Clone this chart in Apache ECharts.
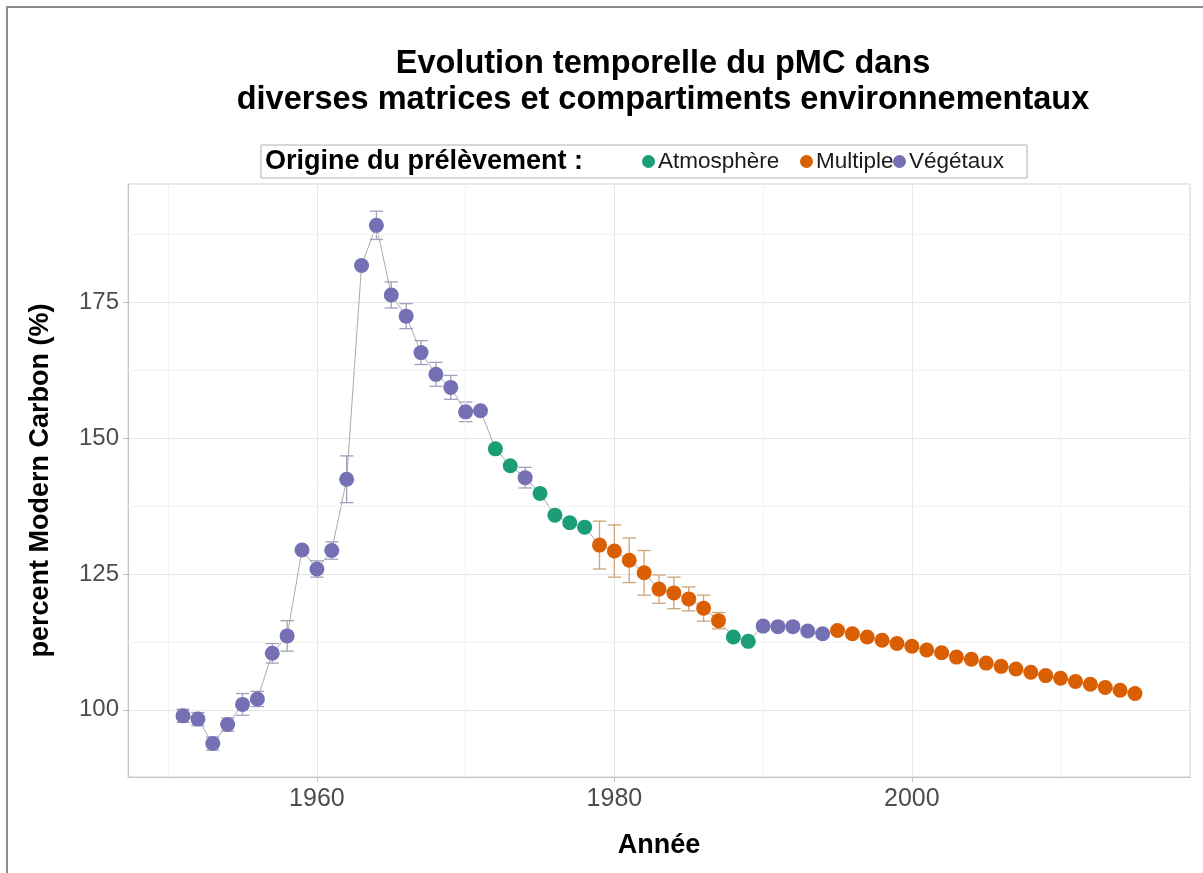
<!DOCTYPE html>
<html>
<head>
<meta charset="utf-8">
<script src="https://cdn.jsdelivr.net/npm/echarts@6/dist/echarts.min.js"></script>
<style>
  html, body { margin: 0; padding: 0; background: #ffffff; }
  #chart { width: 1203px; height: 873px; }
</style>
</head>
<body>
<div id="chart"></div>
<script>
// Sampling year of each measurement
const years = [
  1951, 1952, 1953, 1954, 1955, 1956, 1957, 1958, 1959, 1960,
  1961, 1962, 1963, 1964, 1965, 1966, 1967, 1968, 1969, 1970,
  1971, 1972, 1973, 1974, 1975, 1976, 1977, 1978, 1979, 1980,
  1981, 1982, 1983, 1984, 1985, 1986, 1987, 1988, 1989, 1990,
  1991, 1992, 1993, 1994, 1995, 1996, 1997, 1998, 1999, 2000,
  2001, 2002, 2003, 2004, 2005, 2006, 2007, 2008, 2009, 2010,
  2011, 2012, 2013, 2014, 2015
];

// percent Modern Carbon (%)
const pmc = [
  98.9, 98.3, 93.8, 97.3, 101.0, 102.0, 110.4, 113.6, 129.4, 125.9,
  129.3, 142.4, 181.7, 189.1, 176.3, 172.4, 165.7, 161.7, 159.3, 154.8,
  155.0, 148.0, 144.9, 142.7, 139.8, 135.8, 134.4, 133.6, 130.3, 129.2,
  127.5, 125.2, 122.2, 121.5, 120.4, 118.7, 116.4, 113.4, 112.6, 115.4,
  115.3, 115.3, 114.5, 114.0, 114.6, 114.0, 113.4, 112.8, 112.2, 111.7,
  111.0, 110.5, 109.7, 109.3, 108.6, 108.0, 107.5, 106.9, 106.3, 105.8,
  105.2, 104.7, 104.1, 103.6, 103.0
];

// Uncertainty (±) on the pMC value, null where none was reported
const pmcError = [
  1.2, 1.2, 1.2, 1.2, 2.0, 1.4, 1.8, 2.8, null, 1.5,
  1.6, 4.3, null, 2.6, 2.4, 2.3, 2.2, 2.2, 2.2, 1.8,
  null, null, null, 1.9, null, null, null, null, 4.4, 4.8,
  4.1, 4.1, 2.6, 2.9, 2.2, 2.4, 1.5, null, null, null,
  null, null, null, null, null, null, null, null, null, null,
  null, null, null, null, null, null, null, null, null, null,
  null, null, null, null, null
];

// Sample origin: A = Atmosphère, M = Multiple, V = Végétaux
const origin = [
  'V', 'V', 'V', 'V', 'V', 'V', 'V', 'V', 'V', 'V',
  'V', 'V', 'V', 'V', 'V', 'V', 'V', 'V', 'V', 'V',
  'V', 'A', 'A', 'V', 'A', 'A', 'A', 'A', 'M', 'M',
  'M', 'M', 'M', 'M', 'M', 'M', 'M', 'A', 'A', 'V',
  'V', 'V', 'V', 'V', 'M', 'M', 'M', 'M', 'M', 'M',
  'M', 'M', 'M', 'M', 'M', 'M', 'M', 'M', 'M', 'M',
  'M', 'M', 'M', 'M', 'M'
];

const groupCodes = ['A', 'M', 'V'];
const groupNames = ['Atmosphère', 'Multiple', 'Végétaux'];

// Axis ticks and grid lines
const xTicks = [1960, 1980, 2000];
const yTicks = [100, 125, 150, 175];
const xMinorGrid = [1950, 1970, 1990, 2010];
const yMinorGrid = [112.5, 137.5, 162.5, 187.5];

const FONT = '"Liberation Sans", Arial, Helvetica, sans-serif';
const pointColors = { A: '#1B9E77', M: '#D95F02', V: '#7570B3' };
const errorColors = { A: '#7fc4ad', M: '#cda377', V: '#a3a0bd' };

const chart = echarts.init(document.getElementById('chart'), null, { renderer: 'canvas' });

const allPoints = years.map((y, i) => [y, pmc[i]]);
const errorRows = [];
years.forEach((y, i) => {
  if (pmcError[i] != null) errorRows.push([y, pmc[i], pmcError[i], groupCodes.indexOf(origin[i])]);
});

const scatterSeries = groupCodes.map((code, gi) => ({
  name: groupNames[gi],
  type: 'scatter',
  symbol: 'circle',
  symbolSize: 15,
  z: 5,
  itemStyle: { color: pointColors[code], opacity: 1 },
  emphasis: { disabled: true },
  data: years.map((y, i) => origin[i] === code ? [y, pmc[i]] : null).filter(d => d)
}));

const minorLines = [];
xMinorGrid.forEach(v => minorLines.push({ xAxis: v }));
yMinorGrid.forEach(v => minorLines.push({ yAxis: v }));

const legendAt = (name, left) => ({
  data: [{ name: name, icon: 'circle' }],
  left: left,
  top: 150,
  padding: 0,
  itemWidth: 13,
  itemHeight: 13,
  itemGap: 0,
  selectedMode: false,
  textStyle: { fontFamily: FONT, fontSize: 22.5, color: '#1a1a1a', padding: [0, 0, 0, -2] }
});

const option = {
  backgroundColor: '#ffffff',
  animation: false,
  title: {
    text: 'Evolution temporelle du pMC dans\ndiverses matrices et compartiments environnementaux',
    left: 658,
    top: 41,
    textAlign: 'center',
    textStyle: { fontFamily: FONT, fontSize: 32.5, fontWeight: 'bold', color: '#000000', lineHeight: 36 }
  },
  legend: [
    legendAt('Atmosphère', 642),
    legendAt('Multiple', 800),
    legendAt('Végétaux', 893)
  ],
  graphic: [
    {
      type: 'rect', silent: true, z: -10,
      shape: { x: 7, y: 7, width: 1230, height: 900 },
      style: { fill: 'none', stroke: '#8c8c8c', lineWidth: 2 }
    },
    {
      type: 'rect', silent: true, z: -5,
      shape: { x: 261, y: 145, width: 766, height: 33 },
      style: { fill: '#ffffff', stroke: '#b0b0b0', lineWidth: 1 }
    },
    {
      type: 'text', silent: true,
      x: 265, y: 162,
      style: {
        text: 'Origine du prélèvement :',
        font: 'bold 27px ' + FONT,
        fill: '#000000',
        textVerticalAlign: 'middle'
      }
    }
  ],
  grid: {
    left: 128, right: 13, top: 184, bottom: 96,
    show: true, borderColor: '#d2d2d2', borderWidth: 1,
    containLabel: false
  },
  xAxis: {
    type: 'value',
    min: 1947.3,
    max: 2018.7,
    name: 'Année',
    nameLocation: 'middle',
    nameGap: 55,
    nameTextStyle: { fontFamily: FONT, fontSize: 27, fontWeight: 'bold', color: '#000000' },
    axisLine: { show: true, onZero: false, lineStyle: { color: '#c4c4c4', width: 1 } },
    axisTick: { show: true, length: 5, customValues: xTicks, lineStyle: { color: '#c4c4c4' } },
    axisLabel: {
      customValues: xTicks, margin: 10, fontFamily: FONT, fontSize: 25, color: '#4d4d4d',
      formatter: v => String(v)
    },
    splitLine: { show: true, lineStyle: { color: '#e6e6e6', width: 1 } }
  },
  yAxis: {
    type: 'value',
    min: 87.65,
    max: 196.7,
    name: 'percent Modern Carbon (%)',
    nameLocation: 'middle',
    nameRotate: 90,
    nameGap: 74,
    nameTextStyle: { fontFamily: FONT, fontSize: 27, fontWeight: 'bold', color: '#000000' },
    axisLine: { show: true, onZero: false, lineStyle: { color: '#c4c4c4', width: 1 } },
    axisTick: { show: true, length: 5, customValues: yTicks, lineStyle: { color: '#c4c4c4' } },
    axisLabel: {
      customValues: yTicks, margin: 9, fontFamily: FONT, fontSize: 24, color: '#4d4d4d',
      formatter: v => String(v)
    },
    splitLine: { show: true, lineStyle: { color: '#e6e6e6', width: 1 } }
  },
  series: [
    {
      // minor grid lines between the labelled ticks
      type: 'line',
      data: [],
      silent: true,
      z: 0,
      markLine: {
        silent: true,
        symbol: ['none', 'none'],
        label: { show: false },
        lineStyle: { color: '#f1f1f1', width: 1, type: 'solid' },
        emphasis: { disabled: true },
        data: minorLines
      }
    },
    {
      // connecting line through all measurements
      type: 'line',
      data: allPoints,
      symbol: 'none',
      z: 2,
      silent: true,
      lineStyle: { color: '#aaaaaa', width: 1 }
    },
    {
      // error bars
      type: 'custom',
      z: 3,
      silent: true,
      data: errorRows,
      encode: { x: 0, y: 1 },
      renderItem: function (params, api) {
        const x = api.value(0), y = api.value(1), e = api.value(2);
        const color = errorColors[groupCodes[api.value(3)]];
        const top = api.coord([x, y + e]);
        const bot = api.coord([x, y - e]);
        const xl = api.coord([x - 0.45, y])[0];
        const xr = api.coord([x + 0.45, y])[0];
        const st = { stroke: color, lineWidth: 1.3 };
        return {
          type: 'group',
          children: [
            { type: 'line', shape: { x1: top[0], y1: top[1], x2: bot[0], y2: bot[1] }, style: st },
            { type: 'line', shape: { x1: xl, y1: top[1], x2: xr, y2: top[1] }, style: st },
            { type: 'line', shape: { x1: xl, y1: bot[1], x2: xr, y2: bot[1] }, style: st }
          ]
        };
      }
    }
  ].concat(scatterSeries)
};

chart.setOption(option);
</script>
</body>
</html>
